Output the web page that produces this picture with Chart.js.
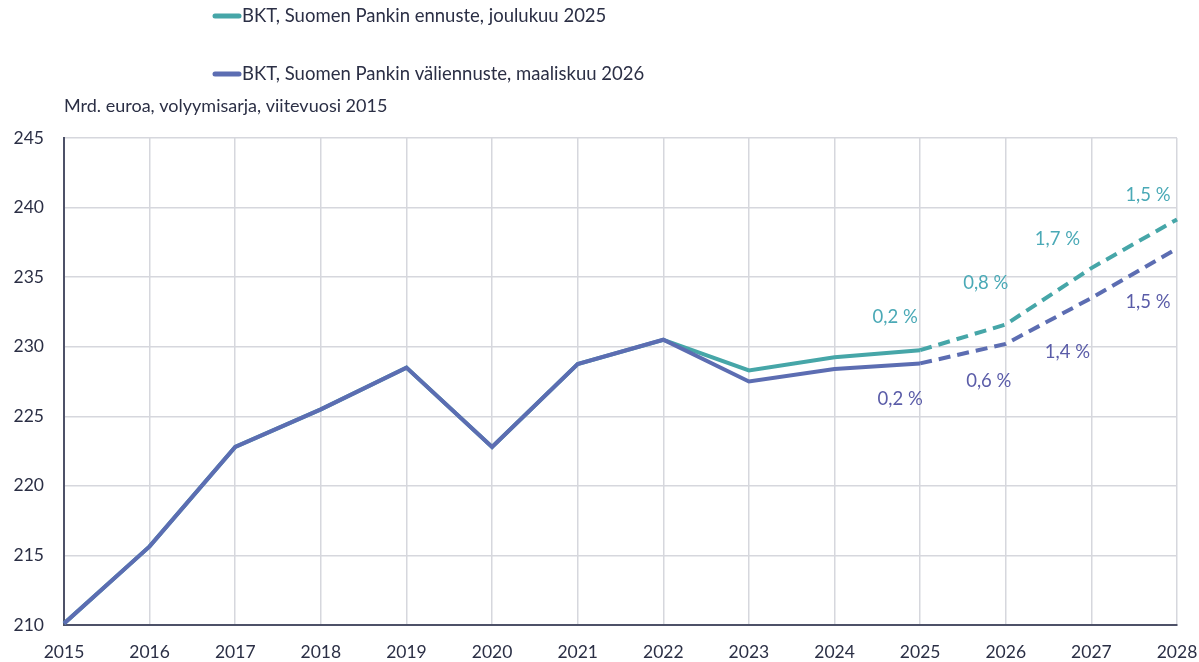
<!DOCTYPE html>
<html>
<head>
<meta charset="utf-8">
<script src="https://cdn.jsdelivr.net/npm/chart.js@4/dist/chart.umd.min.js"></script>
<style>
  html, body { margin: 0; padding: 0; background: #fff; }
  #wrap { width: 1199px; height: 662px; }
</style>
</head>
<body>
<div id="wrap"><canvas id="bkt"></canvas></div>
<script>
const years = ['2015','2016','2017','2018','2019','2020','2021','2022','2023','2024','2025','2026','2027','2028'];
const bktDec2025 = [210.1, 215.65, 222.8, 225.5, 228.5, 222.8, 228.75, 230.5, 228.3, 229.25, 229.75, 231.6, 235.65, 239.15];
const bktMar2026 = [210.1, 215.65, 222.8, 225.5, 228.5, 222.8, 228.75, 230.5, 227.5, 228.4, 228.8, 230.2, 233.5, 237.05];
const growthDec2025 = ['', '', '', '', '', '', '', '', '', '', '0,2 %', '0,8 %', '1,7 %', '1,5 %'];
const growthMar2026 = ['', '', '', '', '', '', '', '', '', '', '0,2 %', '0,6 %', '1,4 %', '1,5 %'];
const yTicks = [210, 215, 220, 225, 230, 235, 240, 245];
const firstForecast = 10; // dashed from 2025 onward

const tealCol = '#46a6a8';
const purpleCol = '#5c6db2';
const tealText = '#4aa9b6';
const purpleText = '#5a5ca8';
const fontFam = 'Lato, "Open Sans", sans-serif';

// label offsets relative to the point (px)
const tealOff = [[-25,-33],[-20,-41],[-34,-29],[-29,-24]];
const purpleOff = [[-20,36],[-17,37],[-24,54],[-29,53]];

const dashSeg = { borderDash: ctx => ctx.p0DataIndex >= firstForecast ? [12, 7] : undefined };

const extras = {
  id: 'extras',
  afterDatasetsDraw(chart) {
    const c = chart.ctx;
    const ca = chart.chartArea;
    c.save();
    // legend
    c.font = '18.5px ' + fontFam;
    c.textBaseline = 'middle';
    c.textAlign = 'left';
    const leg = [[chart.data.datasets[0], 16], [chart.data.datasets[1], 74]];
    leg.forEach(([ds, y]) => {
      c.strokeStyle = ds.borderColor;
      c.lineWidth = 5;
      c.lineCap = 'round';
      c.beginPath(); c.moveTo(215, y); c.lineTo(239, y); c.stroke();
      c.fillStyle = '#2b2f45';
      c.fillText(ds.label, 242, y);
    });
    // unit title
    c.font = '18px ' + fontFam;
    c.fillText('Mrd. euroa, volyymisarja, viitevuosi 2015', ca.left, 106);
    // growth labels
    c.font = '18.5px ' + fontFam;
    c.textAlign = 'center';
    [[0, growthDec2025, tealOff, tealText], [1, growthMar2026, purpleOff, purpleText]].forEach(([di, labs, off, col]) => {
      const meta = chart.getDatasetMeta(di);
      c.fillStyle = col;
      let k = 0;
      labs.forEach((t, i) => {
        if (!t) return;
        const p = meta.data[i];
        const o = off[k++];
        c.fillText(t, p.x + o[0], p.y + o[1]);
      });
    });
    c.restore();
  }
};

new Chart(document.getElementById('bkt'), {
  type: 'line',
  data: {
    labels: years,
    datasets: [
      { label: 'BKT, Suomen Pankin ennuste, joulukuu 2025', data: bktDec2025, borderColor: tealCol, backgroundColor: tealCol,
        borderWidth: 4, pointRadius: 0, tension: 0, segment: dashSeg, order: 2 },
      { label: 'BKT, Suomen Pankin väliennuste, maaliskuu 2026', data: bktMar2026, borderColor: purpleCol, backgroundColor: purpleCol,
        borderWidth: 4, pointRadius: 0, tension: 0, segment: dashSeg, order: 1 }
    ]
  },
  options: {
    responsive: true,
    maintainAspectRatio: false,
    animation: false,
    layout: { padding: { top: 138, right: 0, left: 0, bottom: 0 } },
    plugins: { legend: { display: false }, tooltip: { enabled: false } },
    scales: {
      x: {
        offset: false,
        afterFit(scale) { scale.height = 37; scale.paddingRight = 22; },
        grid: { color: '#d6d7dd', lineWidth: 1.5, drawTicks: false },
        border: { color: '#4d5168', width: 2 },
        ticks: { color: '#2b2f45', font: { family: fontFam, size: 17.5 }, padding: 17, maxRotation: 0 }
      },
      y: {
        min: 210, max: 245,
        afterFit(scale) { scale.width = 64; },
        afterBuildTicks(scale) { scale.ticks = yTicks.map(v => ({ value: v })); },
        grid: { color: '#d6d7dd', lineWidth: 1.5, drawTicks: false },
        border: { color: '#4d5168', width: 2 },
        ticks: { color: '#2b2f45', font: { family: fontFam, size: 17.5 }, padding: 20 }
      }
    }
  },
  plugins: [extras]
});
</script>
</body>
</html>
